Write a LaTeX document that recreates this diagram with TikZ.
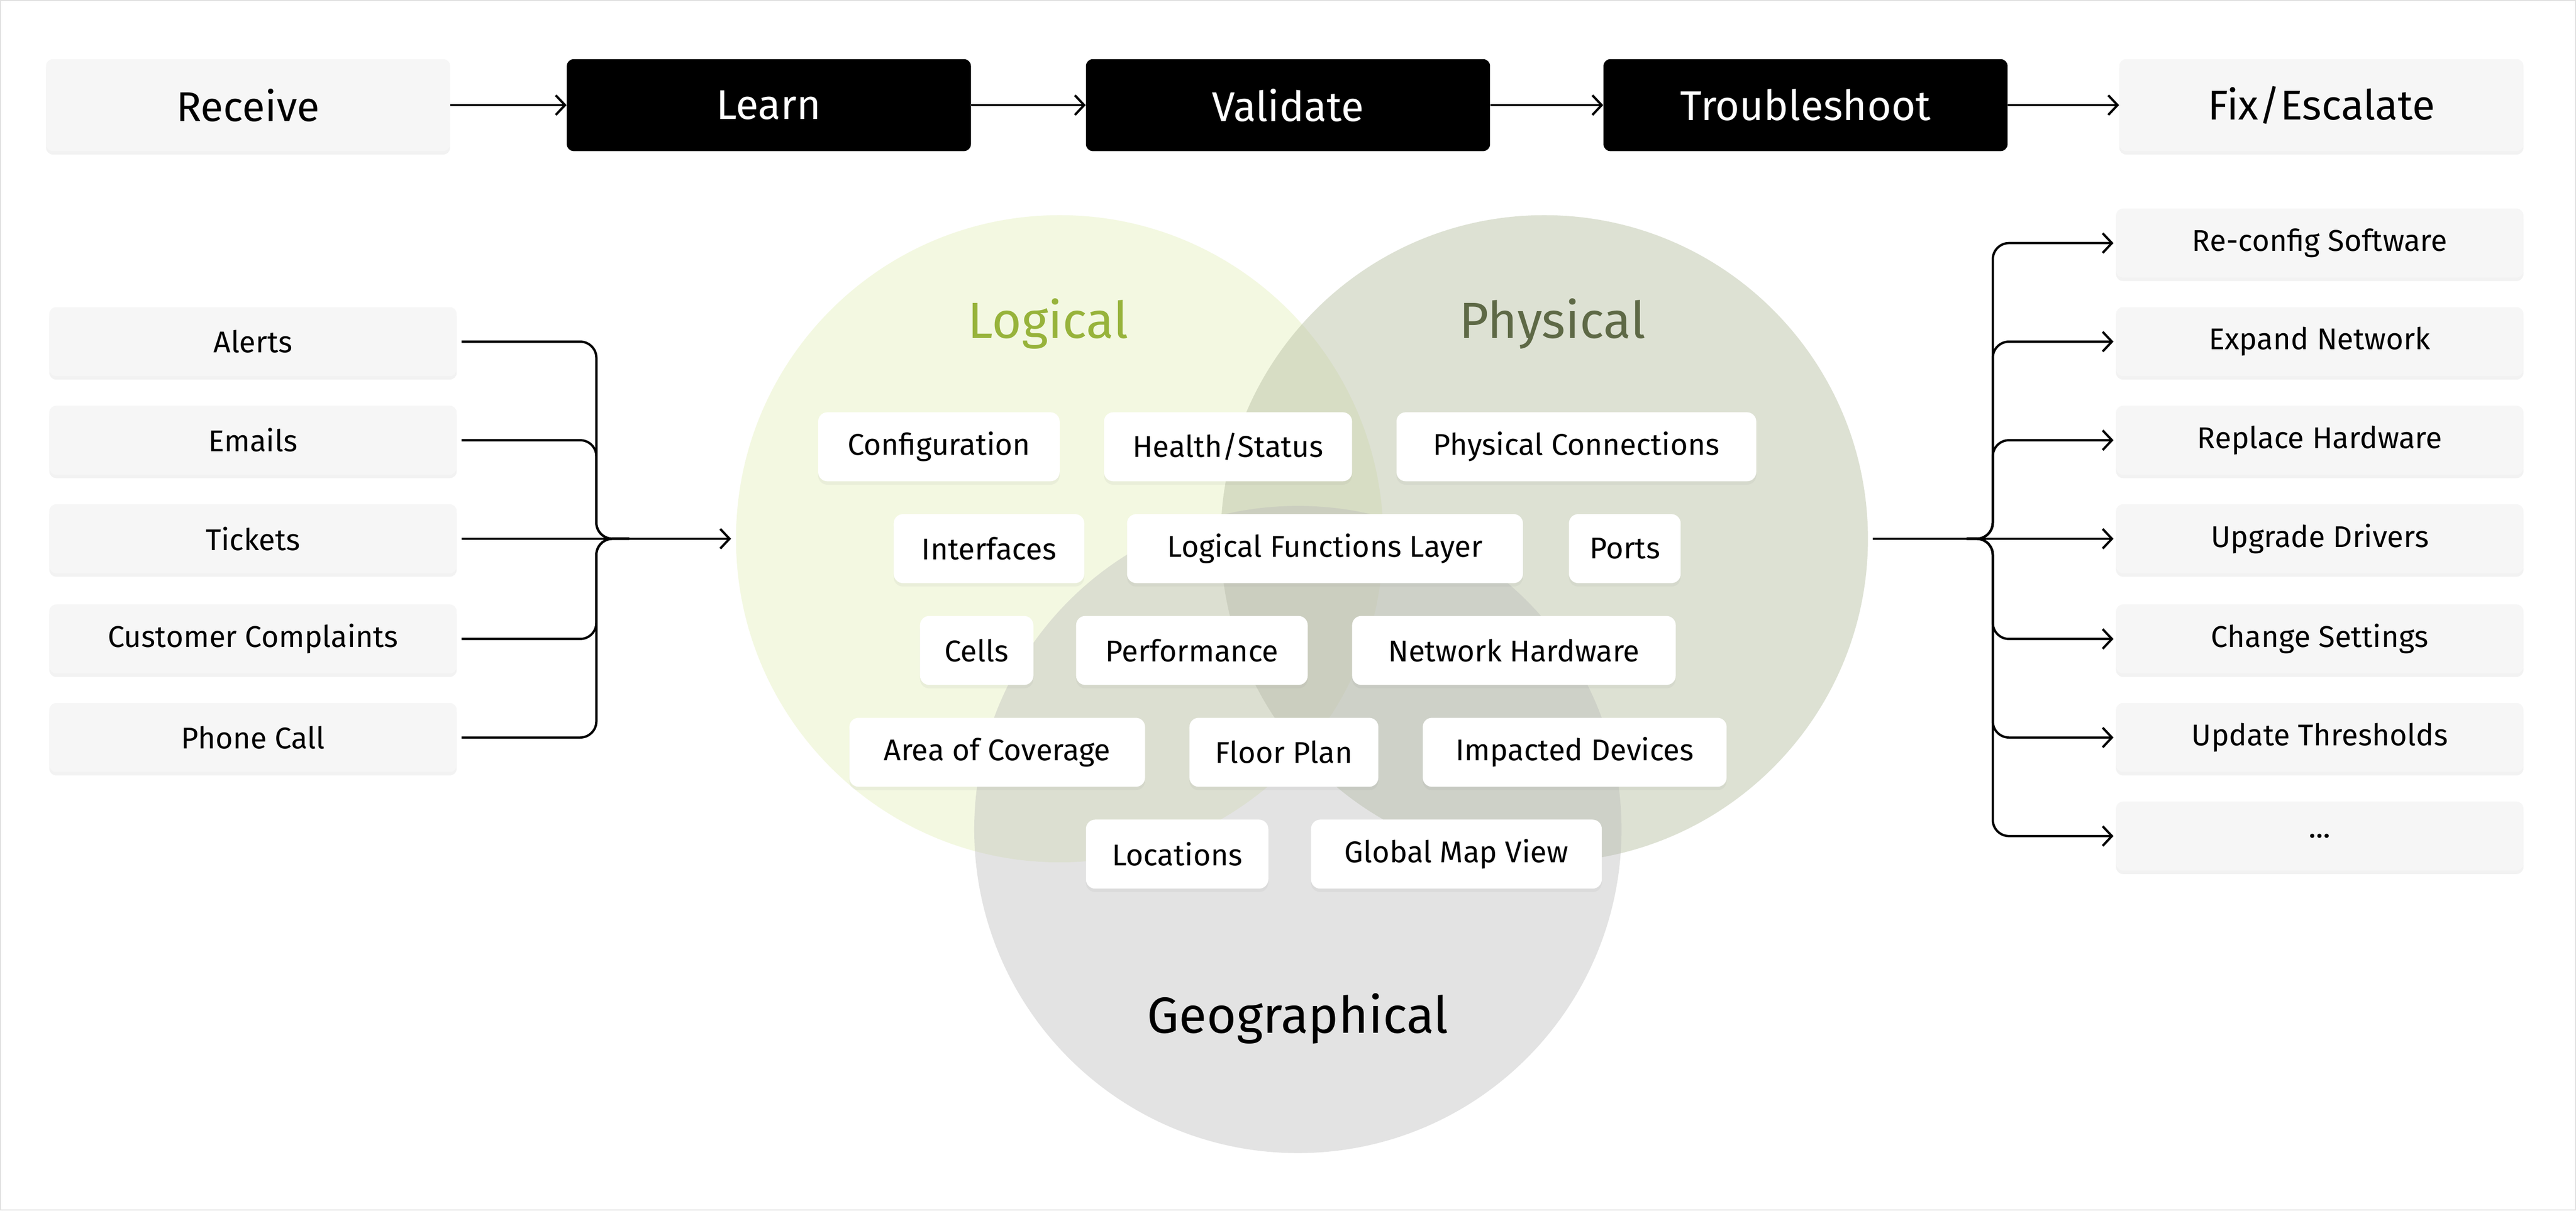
\documentclass[tikz,border=0pt]{standalone}
\usepackage{fontspec}
\setmainfont{Fira Sans}
\usetikzlibrary{arrows.meta,shadows}
\definecolor{boxgray}{HTML}{F6F6F6}
\definecolor{logfill}{HTML}{F3F8E1}
\definecolor{physfill}{HTML}{BCC4A8}
\definecolor{geofill}{HTML}{B8B8B8}
\definecolor{loggreen}{HTML}{97B33B}
\definecolor{physgreen}{HTML}{5E6946}
\tikzset{
  px/.style={x=0.05cm,y=-0.05cm},
  flow/.style={rounded corners=6pt,minimum width=12.3cm,minimum height=2.8cm,font=\fontsize{36}{40}\selectfont},
  graybox/.style={flow,fill=boxgray,drop shadow={opacity=0.10,shadow xshift=0pt,shadow yshift=-3pt}},
  blackbox/.style={flow,fill=black,text=white},
  sidebox/.style={rounded corners=6pt,minimum width=12.4cm,minimum height=2.1cm,fill=boxgray,font=\fontsize{26}{30}\selectfont,drop shadow={opacity=0.10,shadow xshift=0pt,shadow yshift=-3pt}},
  tag/.style={rounded corners=8pt,minimum height=2.1cm,fill=white,inner sep=0pt,font=\fontsize{26}{30}\selectfont,drop shadow={opacity=0.08,shadow xshift=0pt,shadow yshift=-3pt}},
  conn/.style={line width=2pt},
  arr/.style={conn,-{Straight Barb[length=8pt,width=17pt,line width=2pt]}},
  venn/.style={font=\fontsize{44}{48}\selectfont}
}
\begin{document}
\begin{tikzpicture}[px]
\useasboundingbox (0,0) rectangle (1568,737);
\fill[white] (0,0) rectangle (1568,737);
\draw[black!12,line width=1pt] (0.3,0.3) rectangle (1567.7,736.7);
% circles
\fill[logfill] (645,328) circle[radius=197];
\fill[physfill,fill opacity=0.5] (940,328) circle[radius=197];
\fill[geofill,fill opacity=0.38] (790,505) circle[radius=197];
\node[venn,text=loggreen] (vlog) at (638,197) {Logical};
\node[venn,text=physgreen] (vphys) at (945,197) {Physical};
\node[venn] (vgeo) at (790,620) {Geographical};
% top flow
\node[graybox] (receive) at (151,64) {Receive};
\node[blackbox] (learn) at (468,64) {Learn};
\node[blackbox] (validate) at (784,64) {Validate};
\node[blackbox] (trouble) at (1099,64) {Troubleshoot};
\node[graybox] (fix) at (1413,64) {Fix/Escalate};
\draw[arr] (receive.east) -- (learn.west);
\draw[arr] (learn.east) -- (validate.west);
\draw[arr] (validate.east) -- (trouble.west);
\draw[arr] (trouble.east) -- (fix.west);
% left inputs
\node[sidebox] (alerts) at (154,208) {Alerts};
\node[sidebox] (emails) at (154,268) {Emails};
\node[sidebox] (tickets) at (154,328) {Tickets};
\node[sidebox] (cust) at (154,389) {Customer Complaints};
\node[sidebox] (phone) at (154,449) {Phone Call};
\coordinate (ljoin) at (383,328);
\coordinate (lend) at (445,328);
\foreach \n in {alerts,emails,cust,phone}
  \draw[conn,rounded corners=14pt] ([xshift=4pt]\n.east) -- (363,0 |- \n.east) -- (363,328) -- (ljoin);
\draw[conn] ([xshift=4pt]tickets.east) -- (ljoin);
\draw[arr] (ljoin) -- (lend);
% right outputs
\node[sidebox] (o1) at (1412,148) {Re-config Software};
\node[sidebox] (o2) at (1412,208) {Expand Network};
\node[sidebox] (o3) at (1412,268) {Replace Hardware};
\node[sidebox] (o4) at (1412,328) {Upgrade Drivers};
\node[sidebox] (o5) at (1412,389) {Change Settings};
\node[sidebox] (o6) at (1412,449) {Update Thresholds};
\node[sidebox] (o7) at (1412,509) {...};
\coordinate (rstart) at (1140,328);
\coordinate (rjoin) at (1197,328);
\draw[conn] (rstart) -- (rjoin);
\foreach \n in {o1,o2,o3,o5,o6,o7}
  \draw[arr,rounded corners=14pt] (rjoin) -- (1213,328) -- (1213,0 |- \n.west) -- ([xshift=-2pt]\n.west);
\draw[arr] (rjoin) -- ([xshift=-2pt]o4.west);
% tags
\node[tag,minimum width=7.35cm] (t1) at (571.5,272) {Configuration};
\node[tag,minimum width=7.55cm] (t2) at (747.5,272) {Health/Status};
\node[tag,minimum width=10.95cm] (t3) at (959.5,272) {Physical Connections};
\node[tag,minimum width=5.8cm] (t4) at (602,334) {Interfaces};
\node[tag,minimum width=12.05cm] (t5) at (806.5,334) {Logical Functions Layer};
\node[tag,minimum width=3.4cm] (t6) at (989,334) {Ports};
\node[tag,minimum width=3.45cm] (t7) at (594.5,396) {Cells};
\node[tag,minimum width=7.05cm] (t8) at (725.5,396) {Performance};
\node[tag,minimum width=9.85cm] (t9) at (921.5,396) {Network Hardware};
\node[tag,minimum width=9cm] (t10) at (607,458) {Area of Coverage};
\node[tag,minimum width=5.75cm] (t11) at (781.5,458) {Floor Plan};
\node[tag,minimum width=9.25cm] (t12) at (958.5,458) {Impacted Devices};
\node[tag,minimum width=5.55cm] (t13) at (716.5,520) {Locations};
\node[tag,minimum width=8.85cm] (t14) at (886.5,520) {Global Map View};
\end{tikzpicture}
\end{document}
